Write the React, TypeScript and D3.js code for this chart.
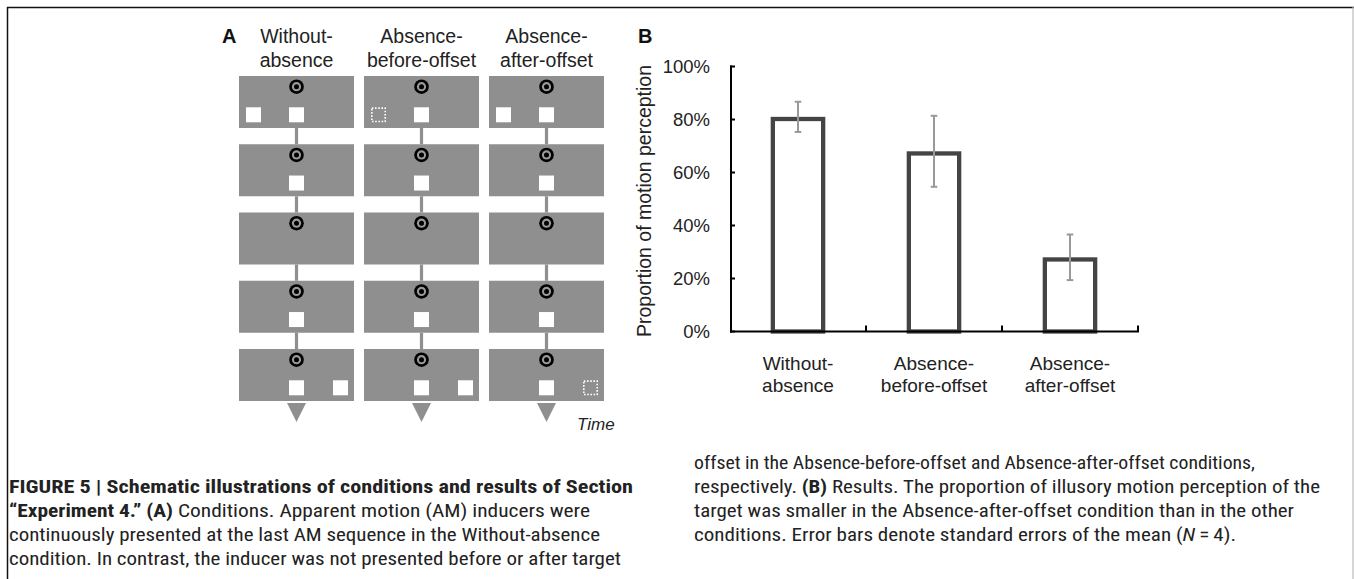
import React from "react";
import * as d3 from "d3";

// ---------- data ----------
const conditions = ["Without-absence", "Absence-before-offset", "Absence-after-offset"];
const conditionLines = [
  ["Without-", "absence"],
  ["Absence-", "before-offset"],
  ["Absence-", "after-offset"],
];
const frames = [0, 1, 2, 3, 4];
const targetShown = [true, true, false, true, true];
// inducer in first frame (left) and last frame (right): "solid" | "dotted" | null
const firstFrameInducer = ["solid", "dotted", "solid"];
const lastFrameInducer = ["solid", "solid", "dotted"];

const proportions = [0.81, 0.68, 0.28];
const standardErrors = [0.057, 0.134, 0.086];
const yTicks = [0, 0.2, 0.4, 0.6, 0.8, 1.0];
const yTitle = "Proportion of motion perception";

type Seg = { t: string; b?: boolean; i?: boolean };
const captionLeft: Seg[][] = [
  [{ t: "FIGURE 5 | Schematic illustrations of conditions and results of Section", b: true }],
  [{ t: "\u201cExperiment 4.\u201d (A)", b: true }, { t: " Conditions. Apparent motion (AM) inducers were" }],
  [{ t: "continuously presented at the last AM sequence in the Without-absence" }],
  [{ t: "condition. In contrast, the inducer was not presented before or after target" }],
];
const captionRight: Seg[][] = [
  [{ t: "offset in the Absence-before-offset and Absence-after-offset conditions," }],
  [{ t: "respectively. " }, { t: "(B)", b: true }, { t: " Results. The proportion of illusory motion perception of the" }],
  [{ t: "target was smaller in the Absence-after-offset condition than in the other" }],
  [{ t: "conditions. Error bars denote standard errors of the mean (" }, { t: "N", i: true }, { t: "\u2009=\u20094)." }],
];

// ---------- layout ----------
const W = 1354;
const H = 579;
const FONT = "'Liberation Sans', Arial, Helvetica, sans-serif";
const CAPFONT = "'Liberation Sans Narrow', 'Roboto Condensed', 'Liberation Sans', Arial, sans-serif";
const captionLeftWidths = [624, 581, 591, 612];
const captionRightWidths = [561, 626, 600, 542];

export default function App() {
  // Panel A scales
  const colX = d3.scaleBand<string>().domain(conditions).range([239, 604]).paddingInner(0.08);
  const rowY = d3.scaleBand<number>().domain(frames).range([76, 401]).paddingInner(0.238);
  const bw = colX.bandwidth();
  const bh = rowY.bandwidth();
  const boxGray = "#8f8f8f";
  const sq = 15;

  // Panel B scales
  const x = d3.scaleBand<string>().domain(conditions).range([730, 1138]);
  const y = d3.scaleLinear().domain([0, 1]).range([331.5, 66.5]);
  const barW = x.bandwidth() * 0.37;
  const barStroke = 4.3;

  const square = (cx: number, top: number, kind: string, key: string) =>
    kind === "solid" ? (
      <rect key={key} x={cx - sq / 2} y={top} width={sq} height={sq} fill="#fff" />
    ) : (
      <rect key={key} x={cx - sq / 2 + 0.8} y={top + 0.8} width={sq - 1.6} height={sq - 1.6}
        fill="none" stroke="#fff" strokeWidth={1.6} strokeDasharray="1.6 1.6" />
    );

  return (
    <svg width={W} height={H} style={{ position: "absolute", left: 0, top: 0, background: "#fff" }}
      fontFamily={FONT}>
      {/* frame */}
      <line x1={7} y1={7.5} x2={W} y2={7.5} stroke="#111" strokeWidth={1.5} />
      <line x1={7.5} y1={7} x2={7.5} y2={H} stroke="#111" strokeWidth={1.5} />
      <line x1={1353} y1={7} x2={1353} y2={H} stroke="#bbb" strokeWidth={1.2} />

      {/* ---------- Panel A ---------- */}
      <text x={222} y={43} fontSize={20} fontWeight="bold" fill="#111">A</text>
      {conditions.map((c, ci) => {
        const left = colX(c)!;
        const cx = left + bw / 2;
        return (
          <g key={c}>
            {conditionLines[ci].map((ln, li) => (
              <text key={li} x={cx} y={43 + li * 23.5} textAnchor="middle" fontSize={19.5} fill="#222">{ln}</text>
            ))}
            {frames.map((f, fi) => {
              const top = rowY(f)!;
              const nextTop = fi < frames.length - 1 ? rowY(frames[fi + 1])! : null;
              return (
                <g key={f}>
                  {nextTop !== null && (
                    <line x1={cx} x2={cx} y1={top + bh} y2={nextTop} stroke={boxGray} strokeWidth={3.2} />
                  )}
                  <rect x={left} y={top} width={bw} height={bh} fill={boxGray} />
                  <circle cx={cx} cy={top + 10.7} r={7.3} fill="#000" />
                  <circle cx={cx} cy={top + 10.7} r={4.6} fill="#9a9a9a" />
                  <circle cx={cx} cy={top + 10.7} r={2.5} fill="#000" />
                  {targetShown[fi] && square(cx, top + 31.3, "solid", "t")}
                  {fi === 0 && firstFrameInducer[ci] && square(cx - 43, top + 31.3, firstFrameInducer[ci], "l")}
                  {fi === frames.length - 1 && lastFrameInducer[ci] && square(cx + 44, top + 31.3, lastFrameInducer[ci], "r")}
                  {fi === frames.length - 1 && (
                    <path d={`M${cx - 9.5},${top + bh + 2} L${cx + 9.5},${top + bh + 2} L${cx},${top + bh + 21} Z`} fill={boxGray} />
                  )}
                </g>
              );
            })}
          </g>
        );
      })}
      <text x={577} y={430} fontSize={17} fontStyle="italic" fill="#222">Time</text>

      {/* ---------- Panel B ---------- */}
      <text x={638} y={43} fontSize={20} fontWeight="bold" fill="#111">B</text>
      <text transform={`translate(651,${(y(0) + y(1)) / 2 + 2}) rotate(-90)`} textAnchor="middle" fontSize={19.5} fill="#222">
        {yTitle}
      </text>
      {yTicks.map((t) => (
        <g key={t}>
          <line x1={730} x2={735} y1={y(t)} y2={y(t)} stroke="#000" strokeWidth={2} />
          <text x={710} y={y(t)} dy="0.36em" textAnchor="end" fontSize={18.5} fill="#222">
            {d3.format(".0%")(t)}
          </text>
        </g>
      ))}
      {conditions.map((c, i) => {
        const cx = x(c)! + x.bandwidth() / 2;
        const v = proportions[i];
        const e = standardErrors[i];
        return (
          <g key={c}>
            <rect x={cx - barW / 2} y={y(v) + barStroke / 2} width={barW} height={y(0) - y(v) - barStroke / 2}
              fill="#fff" stroke="#444" strokeWidth={barStroke} />
            <line x1={cx} x2={cx} y1={y(v + e)} y2={y(v - e)} stroke="#999" strokeWidth={2} />
            <line x1={cx - 3.3} x2={cx + 3.3} y1={y(v + e)} y2={y(v + e)} stroke="#999" strokeWidth={2} />
            <line x1={cx - 3.3} x2={cx + 3.3} y1={y(v - e)} y2={y(v - e)} stroke="#999" strokeWidth={2} />
            {conditionLines[i].map((ln, li) => (
              <text key={li} x={cx} y={370 + li * 22} textAnchor="middle" fontSize={19} fill="#222">{ln}</text>
            ))}
            <line x1={x(c)! + x.bandwidth()} x2={x(c)! + x.bandwidth()} y1={y(0)} y2={y(0) - 6} stroke="#000" strokeWidth={2} />
          </g>
        );
      })}
      <line x1={731} x2={731} y1={y(1) - 1} y2={y(0) + 1} stroke="#000" strokeWidth={2} />
      <line x1={730} x2={1139} y1={y(0)} y2={y(0)} stroke="#000" strokeWidth={2} />

      {/* ---------- caption ---------- */}
      {captionLeft.map((line, li) => (
        <text key={"l" + li} x={9} y={493 + li * 24} fontFamily={CAPFONT} fontSize={17.5} fill="#222"
          textLength={captionLeftWidths[li]} lengthAdjust="spacingAndGlyphs">
          {line.map((s, si) => (
            <tspan key={si} fontWeight={s.b ? "bold" : "normal"} fontStyle={s.i ? "italic" : "normal"}>{s.t}</tspan>
          ))}
        </text>
      ))}
      {captionRight.map((line, li) => (
        <text key={"r" + li} x={694} y={469 + li * 24} fontFamily={CAPFONT} fontSize={17.5} fill="#222"
          textLength={captionRightWidths[li]} lengthAdjust="spacingAndGlyphs">
          {line.map((s, si) => (
            <tspan key={si} fontWeight={s.b ? "bold" : "normal"} fontStyle={s.i ? "italic" : "normal"}>{s.t}</tspan>
          ))}
        </text>
      ))}
    </svg>
  );
}
